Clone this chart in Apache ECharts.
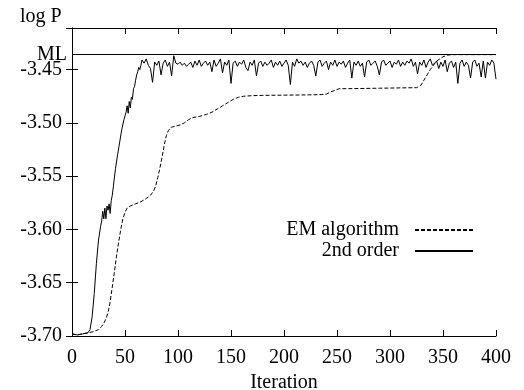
<!DOCTYPE html>
<html>
<head>
<meta charset="utf-8">
<script src="https://cdn.jsdelivr.net/npm/echarts@6/dist/echarts.min.js"></script>
<style>html,body{margin:0;padding:0;background:#fff}#c{width:524px;height:390px}</style>
</head>
<body>
<div id="c"></div>
<script>
// ---- data ----
const xTicks = [0, 50, 100, 150, 200, 250, 300, 350, 400];
const yTicks = [-3.70, -3.65, -3.60, -3.55, -3.50, -3.45];
const mlValue = -3.436;

const emIter = [0,5,10,15,20,25,28,30,32,34,36,38,40,42,44,46,48,50,52,55,60,65,70,74,77,79,81,83,85,87,89,91,94,98,102,106,110,114,120,127,132,137,142,147,152,157,162,170,180,200,220,235,240,244,248,252,270,290,310,325,329,332,335,338,341,344,347,350,354,358,400];
const emVal = [-3.698,-3.699,-3.698,-3.697,-3.696,-3.694,-3.691,-3.688,-3.684,-3.678,-3.668,-3.654,-3.640,-3.625,-3.612,-3.600,-3.590,-3.584,-3.580,-3.578,-3.576,-3.574,-3.571,-3.568,-3.564,-3.559,-3.551,-3.542,-3.532,-3.521,-3.512,-3.507,-3.504,-3.503,-3.502,-3.500,-3.497,-3.495,-3.494,-3.492,-3.490,-3.487,-3.484,-3.481,-3.478,-3.476,-3.475,-3.4745,-3.4742,-3.474,-3.4738,-3.4735,-3.473,-3.471,-3.4695,-3.468,-3.4678,-3.4675,-3.4672,-3.467,-3.465,-3.460,-3.455,-3.450,-3.446,-3.442,-3.440,-3.438,-3.4365,-3.436,-3.436];

const soRiseIter = [0,5,10,15,17,19,21,23,25,27,28,29,30,31,32,33,34,35,36,37,38,39,41,43,45,47,49,51,52,53,54,55,56,57,58,59,60,61,62,63,64,65];
const soRiseVal = [-3.698,-3.699,-3.698,-3.697,-3.694,-3.682,-3.660,-3.632,-3.610,-3.597,-3.592,-3.583,-3.590,-3.580,-3.590,-3.578,-3.582,-3.576,-3.585,-3.573,-3.568,-3.560,-3.543,-3.530,-3.518,-3.506,-3.497,-3.490,-3.484,-3.491,-3.480,-3.486,-3.476,-3.478,-3.468,-3.466,-3.460,-3.455,-3.452,-3.448,-3.450,-3.446];
// iterations 66, 68, ..., 400
const soNoiseStart = 66;
const soNoiseVal = [
-3.441,-3.444,-3.440,-3.446,-3.449,-3.462,-3.443,-3.446,-3.442,-3.455,
-3.444,-3.441,-3.447,-3.443,-3.456,-3.437,-3.444,-3.445,-3.443,-3.446,
-3.444,-3.447,-3.445,-3.443,-3.448,-3.442,-3.446,-3.441,-3.447,-3.444,
-3.442,-3.446,-3.443,-3.452,-3.441,-3.447,-3.444,-3.440,-3.453,-3.443,
-3.446,-3.441,-3.463,-3.444,-3.442,-3.447,-3.443,-3.445,-3.441,-3.448,
-3.451,-3.443,-3.446,-3.441,-3.456,-3.444,-3.442,-3.447,-3.443,-3.446,
-3.444,-3.441,-3.448,-3.443,-3.446,-3.442,-3.447,-3.444,-3.441,-3.446,
-3.464,-3.443,-3.447,-3.440,-3.444,-3.442,-3.446,-3.443,-3.448,-3.444,
-3.442,-3.446,-3.456,-3.443,-3.441,-3.447,-3.444,-3.442,-3.450,-3.443,
-3.446,-3.441,-3.447,-3.443,-3.445,-3.442,-3.448,-3.444,-3.441,-3.458,
-3.443,-3.446,-3.442,-3.447,-3.444,-3.457,-3.443,-3.441,-3.446,-3.444,
-3.442,-3.447,-3.455,-3.443,-3.441,-3.446,-3.444,-3.442,-3.448,-3.443,
-3.445,-3.441,-3.447,-3.443,-3.446,-3.442,-3.444,-3.440,-3.447,-3.443,
-3.454,-3.443,-3.446,-3.441,-3.448,-3.443,-3.440,-3.446,-3.444,-3.442,
-3.449,-3.443,-3.447,-3.441,-3.452,-3.444,-3.442,-3.448,-3.443,-3.463,
-3.444,-3.441,-3.447,-3.443,-3.446,-3.458,-3.443,-3.441,-3.447,-3.444,
-3.457,-3.442,-3.458,-3.443,-3.446,-3.441,-3.444,-3.459
];

// ---- build ----
const emData = emIter.map((x, i) => [x, emVal[i]]);
const soData = soRiseIter.map((x, i) => [x, soRiseVal[i]])
  .concat(soNoiseVal.map((v, i) => [soNoiseStart + 2 * i, v]));

const FONT = 'Liberation Serif';
const FS = 20;
const black = '#000';
const xMin = xTicks[0], xMax = xTicks[xTicks.length - 1], xInt = xTicks[1] - xTicks[0];
const yMin = yTicks[0], yInt = 0.05, yMax = -3.411;

const axisCommon = {
  axisLine: { show: true, lineStyle: { color: black, width: 1 } },
  axisTick: { show: true, inside: true, length: 6, lineStyle: { color: black, width: 1 } },
  splitLine: { show: false }
};

const legendCommon = {
  right: 50, padding: 0, align: 'right', itemWidth: 58, itemHeight: 14,
  itemStyle: { opacity: 0, borderWidth: 0 },
  textStyle: { fontFamily: FONT, fontSize: FS, color: black, padding: [0, 11, 0, 0] }
};

const chart = echarts.init(document.getElementById('c'), null, { renderer: 'canvas' });
chart.setOption({
  animation: false,
  backgroundColor: '#fff',
  title: {
    text: 'log P', left: 20, top: 7, padding: 0,
    textStyle: { fontFamily: FONT, fontSize: FS, fontWeight: 'normal', color: black }
  },
  grid: { left: 72, right: 28, top: 28, bottom: 54, containLabel: false, outerBoundsMode: 'none' },
  legend: [
    Object.assign({ data: [{ name: 'EM algorithm' }], top: 220 }, legendCommon),
    Object.assign({ data: [{ name: '2nd order' }], top: 241 }, legendCommon)
  ],
  xAxis: [
    Object.assign({
      type: 'value', min: xMin, max: xMax, interval: xInt, position: 'bottom',
      name: 'Iteration', nameLocation: 'middle', nameGap: 34,
      nameTextStyle: { fontFamily: FONT, fontSize: FS, color: black },
      axisLabel: { fontFamily: FONT, fontSize: FS, color: black, margin: 12 }
    }, axisCommon),
    Object.assign({
      type: 'value', min: xMin, max: xMax, interval: xInt, position: 'top',
      axisLabel: { show: false }
    }, axisCommon)
  ],
  yAxis: [
    Object.assign({
      type: 'value', min: yMin, max: yMax, interval: yInt, position: 'left',
      axisLabel: { fontFamily: FONT, fontSize: FS, color: black, margin: 10, showMaxLabel: false,
        formatter: v => v.toFixed(2) }
    }, axisCommon),
    Object.assign({
      type: 'value', min: yMin, max: yMax, interval: yInt, position: 'right',
      axisLabel: { show: false }
    }, axisCommon)
  ],
  series: [
    {
      name: 'EM algorithm', type: 'line', data: emData, showSymbol: false, symbol: 'none',
      lineStyle: { color: black, width: 1, type: [4, 2] }, itemStyle: { color: black },
      markLine: {
        silent: true, symbol: 'none', animation: false, precision: 4,
        lineStyle: { color: black, width: 1, type: 'solid' },
        label: { show: true, position: 'start', formatter: 'ML', distance: 5, padding: [5, 0, 0, 0],
          fontFamily: FONT, fontSize: FS, color: black },
        data: [{ yAxis: mlValue }]
      }
    },
    {
      name: '2nd order', type: 'line', data: soData, showSymbol: false, symbol: 'none',
      lineStyle: { color: black, width: 1, type: 'solid' }, itemStyle: { color: black }
    }
  ]
});
</script>
</body>
</html>
